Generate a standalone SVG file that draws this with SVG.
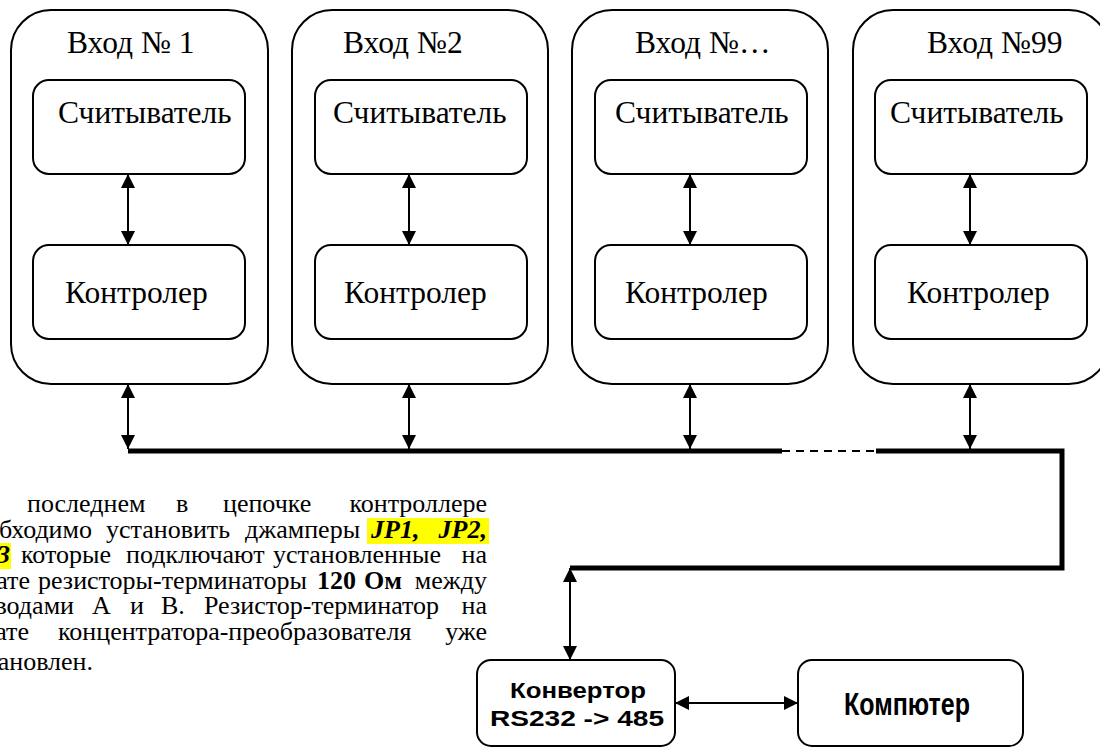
<svg xmlns="http://www.w3.org/2000/svg" width="1100" height="751" viewBox="0 0 1100 751">
<style>
.outer{fill:#fff;stroke:#000;stroke-width:2}
.inner{fill:#fff;stroke:#000;stroke-width:2}
.lbl{font-family:"Liberation Serif","Times New Roman",serif;font-size:31.5px;fill:#000}
.conn{stroke:#000;stroke-width:2;fill:none;marker-start:url(#ah);marker-end:url(#ah)}
.bus{stroke:#000;stroke-width:5;fill:none}
.dash{stroke:#000;stroke-width:2;fill:none;stroke-dasharray:8,6}
.para{font-family:"Liberation Serif","Times New Roman",serif;font-size:26px;fill:#000}
.bi{font-weight:bold;font-style:italic}
.b{font-weight:bold}
.hl{fill:#ffff00}
.sans{font-family:"Liberation Sans",Arial,sans-serif;font-weight:bold;fill:#000}
</style>
<defs>
<marker id="ah" viewBox="0 0 10 10" refX="10" refY="5" markerUnits="userSpaceOnUse" markerWidth="14" markerHeight="14" orient="auto-start-reverse">
<path d="M0,0 L10,5 L0,10 z" fill="#000"/>
</marker>
</defs>
<rect width="1100" height="751" fill="#fff"/>

<g id="entry1">
<rect class="outer" x="11" y="10" width="257" height="374" rx="40"/>
<text class="lbl" x="67" y="53">Вход № 1</text>
<g id="reader1"><rect class="inner" x="33" y="80" width="212" height="94" rx="16"/><text class="lbl" x="58" y="123">Считыватель</text></g>
<g id="ctrl1"><rect class="inner" x="33" y="245" width="212" height="94" rx="16"/><text class="lbl" x="65" y="303">Контролер</text></g>
</g>
<g id="entry2">
<rect class="outer" x="292" y="10" width="256" height="374" rx="40"/>
<text class="lbl" x="343" y="53">Вход №2</text>
<g id="reader2"><rect class="inner" x="315" y="80" width="212" height="94" rx="16"/><text class="lbl" x="333" y="123">Считыватель</text></g>
<g id="ctrl2"><rect class="inner" x="315" y="245" width="212" height="94" rx="16"/><text class="lbl" x="344" y="303">Контролер</text></g>
</g>
<g id="entry3">
<rect class="outer" x="572" y="10" width="256" height="374" rx="40"/>
<text class="lbl" x="635" y="53">Вход №…</text>
<g id="reader3"><rect class="inner" x="595" y="80" width="212" height="94" rx="16"/><text class="lbl" x="615" y="123">Считыватель</text></g>
<g id="ctrl3"><rect class="inner" x="595" y="245" width="212" height="94" rx="16"/><text class="lbl" x="625" y="303">Контролер</text></g>
</g>
<g id="entry99">
<rect class="outer" x="853" y="10" width="256" height="374" rx="40"/>
<text class="lbl" x="927" y="53">Вход №99</text>
<g id="reader99"><rect class="inner" x="875" y="80" width="212" height="94" rx="16"/><text class="lbl" x="890" y="123">Считыватель</text></g>
<g id="ctrl99"><rect class="inner" x="875" y="245" width="212" height="94" rx="16"/><text class="lbl" x="907" y="303">Контролер</text></g>
</g>

<g id="converter">
<rect class="inner" x="477" y="660" width="198" height="86" rx="14"/>
<text class="sans" x="578" y="698" font-size="22" text-anchor="middle" textLength="136" lengthAdjust="spacingAndGlyphs">Конвертор</text>
<text class="sans" x="577" y="726" font-size="22" text-anchor="middle" textLength="174" lengthAdjust="spacingAndGlyphs">RS232 -&gt; 485</text>
</g>
<g id="computer">
<rect class="inner" x="798" y="660" width="225" height="86" rx="14"/>
<text class="sans" x="907" y="715" font-size="31" text-anchor="middle" textLength="126" lengthAdjust="spacingAndGlyphs">Компютер</text>
</g>

<g id="connectors">
<line class="conn" x1="128" y1="174" x2="128" y2="245"/>
<line class="conn" x1="409" y1="174" x2="409" y2="245"/>
<line class="conn" x1="690" y1="174" x2="690" y2="245"/>
<line class="conn" x1="970" y1="174" x2="970" y2="245"/>
<line class="conn" x1="128" y1="384" x2="128" y2="449"/>
<line class="conn" x1="409" y1="384" x2="409" y2="449"/>
<line class="conn" x1="690" y1="384" x2="690" y2="449"/>
<line class="conn" x1="970" y1="384" x2="970" y2="449"/>
<polyline class="bus" points="128,451 782,451"/>
<line class="dash" x1="782" y1="451" x2="876" y2="451"/>
<polyline class="bus" points="876,451 1062,451 1062,568 570,568"/>
<line class="conn" x1="570" y1="568" x2="570" y2="660"/>
<line class="conn" x1="675" y1="703" x2="798" y2="703"/>
</g>

<g id="note">
<rect class="hl" x="367" y="518" width="122" height="26"/>
<rect class="hl" x="-5" y="543" width="16" height="26"/>
<text class="para" y="512"><tspan x="-2" text-anchor="end">На</tspan><tspan x="27">последнем</tspan><tspan x="176">в</tspan><tspan x="223">цепочке</tspan><tspan x="487" text-anchor="end">контроллере</tspan></text>
<text class="para" y="538"><tspan x="92" text-anchor="end">необходимо</tspan><tspan x="106">установить</tspan><tspan x="245">джамперы</tspan><tspan class="bi" x="371">JP1,</tspan><tspan class="bi" x="487" text-anchor="end">JP2,</tspan></text>
<text class="para" y="563"><tspan class="bi" x="10" text-anchor="end">JP3</tspan><tspan x="21">которые</tspan><tspan x="126">подключают</tspan><tspan x="273">установленные</tspan><tspan x="487" text-anchor="end">на</tspan></text>
<text class="para" y="589"><tspan x="30" text-anchor="end">плате</tspan><tspan x="38">резисторы-терминаторы</tspan><tspan class="b" x="317">120</tspan><tspan class="b" x="364">Ом</tspan><tspan x="487" text-anchor="end">между</tspan></text>
<text class="para" y="614"><tspan x="74" text-anchor="end">выводами</tspan><tspan x="92">А</tspan><tspan x="130">и</tspan><tspan x="161">В.</tspan><tspan x="204">Резистор-терминатор</tspan><tspan x="487" text-anchor="end">на</tspan></text>
<text class="para" y="640"><tspan x="29" text-anchor="end">плате</tspan><tspan x="58">концентратора-преобразователя</tspan><tspan x="487" text-anchor="end">уже</tspan></text>
<text class="para" y="670"><tspan x="93" text-anchor="end">установлен.</tspan></text>
</g>
</svg>
